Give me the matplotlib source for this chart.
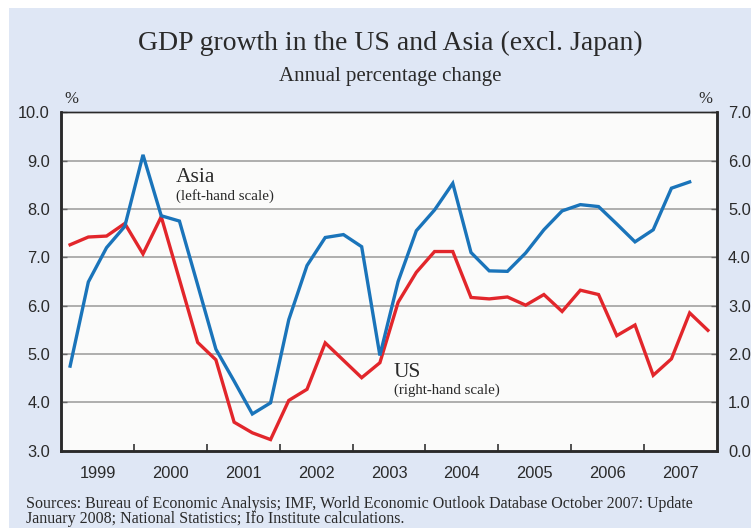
import matplotlib
matplotlib.use("Agg")
import matplotlib.pyplot as plt
import numpy as np
from matplotlib.patches import Rectangle

# ---- data (quarterly, annual % change) ----
years = [1999, 2000, 2001, 2002, 2003, 2004, 2005, 2006, 2007]
asia = [4.75, 6.49, 7.20, 7.64,
        9.12, 7.86, 7.75, 6.43,
        5.10, 4.44, 3.76, 3.99,
        5.71, 6.83, 7.41, 7.47,
        7.22, 4.97, 6.50, 7.55,
        7.98, 8.53, 7.10, 6.72,
        6.71, 7.09, 7.57, 7.96,
        8.09, 8.05, 7.69, 7.32,
        7.57, 8.43, 8.56]
us = [4.26, 4.42, 4.44, 4.70,
      4.07, 4.84, 3.54, 2.24,
      1.88, 0.59, 0.37, 0.23,
      1.04, 1.27, 2.23, 1.87,
      1.51, 1.82, 3.07, 3.69,
      4.12, 4.12, 3.17, 3.14,
      3.18, 3.01, 3.23, 2.88,
      3.32, 3.23, 2.38, 2.60,
      1.56, 1.90, 2.85, 2.49]
left_ticks = [3.0, 4.0, 5.0, 6.0, 7.0, 8.0, 9.0, 10.0]
right_ticks = [0.0, 1.0, 2.0, 3.0, 4.0, 5.0, 6.0, 7.0]

SERIF = ["Liberation Serif", "DejaVu Serif"]
SANS = ["Liberation Sans", "DejaVu Sans"]
BG = "#dfe7f5"
PLOT_BG = "#fbfbfa"
BLUE = "#1a74ba"
RED = "#e2262b"
TXT = "#2a2a2a"

W, H = 751, 528
fig = plt.figure(figsize=(W / 100, H / 100), dpi=100)
fig.patch.set_facecolor("white")
fig.patches.append(Rectangle((9 / W, 0), 1 - 9 / W, 1 - 8 / H, transform=fig.transFigure,
                             facecolor=BG, edgecolor="none", zorder=-10))

left, right, top, bottom = 61, 717, 112.3, 450.7
ax = fig.add_axes([left / W, 1 - bottom / H, (right - left) / W, (bottom - top) / H])
ax2 = ax.twinx()

xa = np.array([years[0] + (i + 0.5) / 4 for i in range(len(asia))])
xu = np.array([years[0] + (i + 0.5) / 4 for i in range(len(us))])

ax.plot(xa, asia, color=BLUE, lw=2.4, solid_joinstyle="miter", zorder=5)
ax2.plot(xu, us, color=RED, lw=2.4, solid_joinstyle="miter", zorder=4)
ax.set_zorder(ax2.get_zorder() + 1)
ax.patch.set_visible(False)
ax2.patch.set_visible(True)
ax2.patch.set_facecolor(PLOT_BG)

ax.set_xlim(years[0], years[-1] + 1)
ax.set_ylim(left_ticks[0], left_ticks[-1])
ax2.set_ylim(right_ticks[0], right_ticks[-1])

ax.set_yticks(left_ticks)
ax.set_yticklabels([f"{v:.1f}" for v in left_ticks])
ax2.set_yticks(right_ticks)
ax2.set_yticklabels([f"{v:.1f}" for v in right_ticks])

ax.set_xticks(years[1:])
ax.set_xticklabels([])
ax.set_xticks([y + 0.5 for y in years], minor=True)
ax.set_xticklabels([str(y) for y in years], minor=True)
ax.tick_params(axis="x", which="major", direction="in", length=5, width=1.2, color="#333333")
ax.tick_params(axis="x", which="minor", length=0, pad=11, labelsize=11.8, labelcolor=TXT)
ax.tick_params(axis="y", direction="in", length=4, width=1, color="#666666",
               pad=8, labelsize=11.8, labelcolor=TXT)
ax2.tick_params(axis="y", direction="in", length=4, width=1, color="#666666",
                pad=8, labelsize=11.8, labelcolor=TXT)
for lab in ax.get_xticklabels(minor=True) + ax.get_yticklabels() + ax2.get_yticklabels():
    lab.set_fontfamily(SANS)

# horizontal gridlines (drawn under both series)
for v in right_ticks[1:-1]:
    ax2.axhline(v, color="#a8a8a8", lw=1.3, zorder=1)

for a in (ax, ax2):
    for s in ("left", "bottom", "right"):
        a.spines[s].set_linewidth(1.8)
        a.spines[s].set_color("#2a2a2a")
    a.spines["top"].set_linewidth(1.0)
    a.spines["top"].set_color("#2a2a2a")

# annotations
def xd(px):
    return years[0] + (px - left) / (right - left) * 9

def yd(py):
    return left_ticks[-1] - (py - top) / (bottom - top) * 7

ax.text(xd(175.6), yd(181.7), "Asia",
        fontfamily=SERIF, fontsize=15.5, color=TXT, ha="left", va="baseline", zorder=6)
ax.text(xd(175.6), yd(199.5), "(left-hand scale)",
        fontfamily=SERIF, fontsize=10.8, color=TXT, ha="left", va="baseline", zorder=6)
ax.text(xd(394), yd(377), "US",
        fontfamily=SERIF, fontsize=15.5, color=TXT, ha="left", va="baseline", zorder=6)
ax.text(xd(394), yd(393.5), "(right-hand scale)",
        fontfamily=SERIF, fontsize=10.8, color=TXT, ha="left", va="baseline", zorder=6)

# titles and units
fig.text(390 / W, 1 - 50 / H, "GDP growth in the US and Asia (excl. Japan)",
         fontfamily=SERIF, fontsize=20, color=TXT, ha="center", va="baseline")
fig.text(390.5 / W, 1 - 81 / H, "Annual percentage change",
         fontfamily=SERIF, fontsize=15, color=TXT, ha="center", va="baseline")
fig.text(71 / W, 1 - 103 / H, "%", fontfamily=SERIF, fontsize=12, color=TXT,
         ha="center", va="baseline")
fig.text(705 / W, 1 - 103 / H, "%", fontfamily=SERIF, fontsize=12, color=TXT,
         ha="center", va="baseline")

fig.text(26 / W, 1 - 508 / H,
         "Sources: Bureau of Economic Analysis; IMF, World Economic Outlook Database October 2007: Update",
         fontfamily=SERIF, fontsize=11.5, color=TXT, ha="left", va="baseline")
fig.text(26 / W, 1 - 523 / H,
         "January 2008; National Statistics; Ifo Institute calculations.",
         fontfamily=SERIF, fontsize=11.5, color=TXT, ha="left", va="baseline")

fig.savefig("out.png", dpi=100, facecolor=fig.get_facecolor())
